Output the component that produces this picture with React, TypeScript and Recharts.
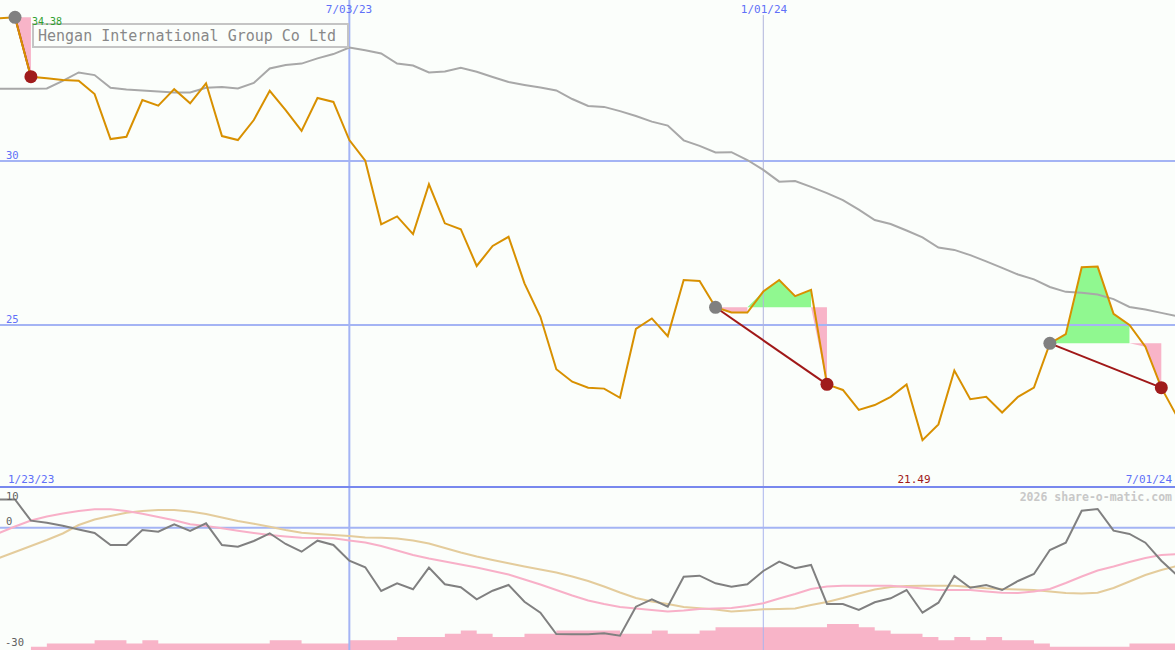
import { ComposedChart, Line, Area, XAxis, YAxis, ReferenceLine, ReferenceDot } from "recharts";

// weekly closes, first entry is the week before 2/06/23, last is 7/01/24
const price = [
  34.35, 34.38, 32.57, 32.52, 32.47, 32.45, 32.04, 30.67, 30.74, 31.86,
  31.69, 32.19, 31.76, 32.37, 30.76, 30.64, 31.25, 32.14, 31.55, 30.92,
  31.92, 31.8, 30.64, 30.01, 28.07, 28.31, 27.77, 29.29, 28.1, 27.92,
  26.8, 27.41, 27.69, 26.27, 25.25, 23.65, 23.27, 23.09, 23.06, 22.78,
  24.88, 25.2, 24.66, 26.37, 26.34, 25.54, 25.38, 25.38, 26.02, 26.37,
  25.88, 26.07, 23.19, 23.02, 22.41, 22.56, 22.81, 23.19, 21.49, 21.97,
  23.61, 22.74, 22.81, 22.33, 22.81, 23.09, 24.44, 24.72, 26.76, 26.78,
  25.34, 25.0, 24.34, 23.09, 22.2,
];

const movingAvg = [
  32.2, 32.2, 32.2, 32.21, 32.44, 32.7, 32.62, 32.23, 32.18, 32.15,
  32.12, 32.09, 32.09, 32.23, 32.26, 32.21, 32.38, 32.82, 32.93, 32.97,
  33.13, 33.26, 33.46, 33.38, 33.28, 32.97, 32.91, 32.7, 32.73, 32.84,
  32.72, 32.56, 32.41, 32.32, 32.24, 32.15, 31.89, 31.68, 31.65, 31.52,
  31.37, 31.2, 31.08, 30.63, 30.46, 30.26, 30.27, 30.03, 29.73, 29.37,
  29.39, 29.21, 29.02, 28.81, 28.52, 28.2, 28.08, 27.88, 27.67, 27.36,
  27.29, 27.13, 26.94, 26.74, 26.54, 26.39, 26.16, 26.01, 25.98, 25.93,
  25.79, 25.55, 25.47, 25.37, 25.27,
];

// lower panel
const momentum = [
  6.93, 6.93, 1.73, 1.21, 0.5, -0.43, -1.29, -4.23, -4.23, -0.55,
  -0.97, 0.85, -0.8, 1.09, -4.23, -4.65, -3.25, -1.36, -3.99, -5.88,
  -3.18, -4.23, -8.09, -9.71, -15.52, -13.63, -15.1, -9.8, -13.88, -14.61,
  -17.56, -15.45, -14.05, -18.15, -20.85, -26.07, -26.15, -26.15, -25.9, -26.49,
  -19.37, -17.56, -19.37, -12.01, -11.77, -13.63, -14.47, -13.88, -10.61, -8.33,
  -9.95, -9.14, -18.71, -18.71, -20.18, -18.29, -17.31, -15.28, -20.85, -18.39,
  -11.84, -14.71, -14.05, -15.28, -13.07, -11.35, -5.46, -3.67, 4.18, 4.6,
  -0.72, -1.53, -3.67, -8.09, -11.72,
];

const pinkSignal = [
  -1.29, 0.31, 1.78, 2.76, 3.5, 4.11, 4.53, 4.53, 4.11, 3.42,
  2.64, 1.85, 0.87, 0.43, -0.13, -0.72, -1.29, -1.78, -2.15, -2.44,
  -2.52, -2.59, -3.13, -3.62, -4.48, -5.58, -6.69, -7.55, -8.28, -9.02,
  -9.75, -10.61, -11.47, -12.7, -13.93, -15.28, -16.63, -17.85, -18.71, -19.45,
  -19.82, -20.18, -20.55, -20.31, -19.94, -19.82, -19.69, -19.2, -18.54, -17.36,
  -16.26, -15.03, -14.42, -14.22, -14.22, -14.22, -14.22, -14.54, -14.91, -15.28,
  -15.28, -15.28, -15.64, -15.94, -16.01, -15.64, -15.03, -13.56, -11.96, -10.49,
  -9.51, -8.4, -7.42, -6.69, -6.49,
];

const tanSignal = [
  -7.42, -5.95, -4.48, -3.01, -1.41, 0.67, 2.02, 2.88, 3.67, 4.11,
  4.36, 4.36, 3.99, 3.37, 2.52, 1.66, 0.99, 0.26, -0.55, -1.24,
  -1.53, -1.78, -2.02, -2.39, -2.44, -2.64, -3.13, -3.87, -4.97, -6.07,
  -7.06, -7.91, -8.72, -9.51, -10.25, -10.98, -11.96, -13.07, -14.42, -15.89,
  -17.24, -18.1, -18.71, -19.45, -19.77, -20.06, -20.55, -20.31, -20.01, -19.94,
  -19.82, -18.96, -18.22, -17.24, -16.13, -15.15, -14.54, -14.29, -14.22, -14.22,
  -14.22, -14.54, -14.86, -15.03, -15.15, -15.28, -15.64, -16.01, -16.13, -15.96,
  -14.79, -13.19, -11.6, -10.37, -9.39,
];

const volume = [
  null, null, 1, 2, 2, 2, 3, 3, 2, 3,
  2, 2, 2, 2, 2, 2, 2, 3, 3, 2,
  2, 2, 3, 3, 3, 4, 4, 4, 5, 6,
  5, 4, 4, 5, 5, 6, 6, 6, 6, 5,
  5, 6, 5, 5, 6, 7, 7, 7, 7, 7,
  7, 7, 8, 8, 7, 6, 5, 5, 4, 3,
  4, 3, 4, 3, 3, 2, 1, 1, 1, 1,
  1, 2, 2, 2, 2,
];

// trades: buy week -> sell week
const buyWeeks = [0, 44, 65];
const sellWeeks = [1, 51, 72];

const dateTicks = [
  { k: 21, label: "7/03/23" },
  { k: 47, label: "1/01/24" },
];

const X_DOMAIN = [-0.942, 72.86];
const MAIN_DOMAIN = [20.03, 34.909];
const LOW_DOMAIN = [-30, 9.75];

const GRID = "#a4b4f4";
const MONO = "'DejaVu Sans Mono', monospace";

const mainData = price.map((p, i) => {
  const k = i - 1;
  const row: any = { k, price: p, ma: movingAvg[i] };
  buyWeeks.forEach((b, t) => {
    const s = sellWeeks[t];
    if (k >= b && k <= s) {
      const level = price[b + 1];
      const next = k < s ? price[i + 1] : null;
      // green above the entry level, pink below; a zero-width edge where the next week flips
      if (p >= level) row.green = [level, p];
      else if (next !== null && next >= level) row.green = [level, level];
      if (p < level) row.pink = [p, level];
      else if (k === b || (next !== null && next < level)) row.pink = [level, level];
      if (k === b) row[`trade${t}`] = level;
      if (k === s) row[`trade${t}`] = p;
    }
  });
  return row;
});

const lowerData = momentum.map((m, i) => ({
  k: i - 1,
  mom: m,
  pinkSig: pinkSignal[i],
  tanSig: tanSignal[i],
  vol: volume[i],
}));

const minIdx = price.indexOf(Math.min(...price));

export default function App() {
  return (
    <div style={{ position: "absolute", left: 0, top: 0, width: 1175, height: 650, background: "#fbfefb", overflow: "hidden" }}>
      <div style={{ position: "absolute", left: 0, top: 0 }}>
        <ComposedChart width={1175} height={488} data={mainData} margin={{ top: 0, right: 0, bottom: 0, left: 0 }}>
          <XAxis dataKey="k" type="number" domain={X_DOMAIN} hide allowDataOverflow />
          <YAxis type="number" domain={MAIN_DOMAIN} hide allowDataOverflow />
          <ReferenceLine y={30} stroke={GRID} strokeWidth={2} />
          <ReferenceLine y={25} stroke={GRID} strokeWidth={2} />
          <ReferenceLine x={dateTicks[0].k} stroke={GRID} strokeWidth={2} />
          <ReferenceLine
            segment={[{ x: dateTicks[1].k, y: 34.45 }, { x: dateTicks[1].k, y: MAIN_DOMAIN[0] }]}
            stroke="#b0b4dc"
            strokeWidth={1}
          />
          <Area dataKey="green" stroke="none" fill="#90f890" fillOpacity={1} isAnimationActive={false} dot={false} activeDot={false} />
          <Area dataKey="pink" stroke="none" fill="#f8b4c8" fillOpacity={1} isAnimationActive={false} dot={false} activeDot={false} />
          <Line dataKey="ma" stroke="#a8a8a8" strokeWidth={2} dot={false} activeDot={false} isAnimationActive={false} />
          {buyWeeks.map((_, t) => (
            <Line key={t} dataKey={`trade${t}`} connectNulls stroke="#a01818" strokeWidth={2} dot={false} activeDot={false} isAnimationActive={false} />
          ))}
          <Line dataKey="price" stroke="#d89000" strokeWidth={2} dot={false} activeDot={false} isAnimationActive={false} />
          {buyWeeks.map((b) => (
            <ReferenceDot key={`b${b}`} x={b} y={price[b + 1]} r={6.5} fill="#808080" stroke="none" />
          ))}
          {sellWeeks.map((s) => (
            <ReferenceDot key={`s${s}`} x={s} y={price[s + 1]} r={6.5} fill="#a01c1c" stroke="none" />
          ))}
        </ComposedChart>
      </div>
      <div style={{ position: "absolute", left: 0, top: 488 }}>
        <ComposedChart width={1175} height={162} data={lowerData} margin={{ top: 0, right: 0, bottom: 0, left: 0 }}>
          <XAxis dataKey="k" type="number" domain={X_DOMAIN} hide allowDataOverflow />
          <YAxis yAxisId="sig" type="number" domain={LOW_DOMAIN} hide allowDataOverflow />
          <YAxis yAxisId="vol" type="number" domain={[0, 50]} hide allowDataOverflow />
          <ReferenceLine yAxisId="sig" y={0} stroke={GRID} strokeWidth={2} />
          <ReferenceLine yAxisId="sig" x={dateTicks[0].k} stroke={GRID} strokeWidth={2} />
          <ReferenceLine yAxisId="sig" x={dateTicks[1].k} stroke="#aab4ee" strokeWidth={1} />
          <Area yAxisId="vol" dataKey="vol" type="stepAfter" stroke="none" fill="#f8b4c8" fillOpacity={1} isAnimationActive={false} dot={false} activeDot={false} />
          <Line yAxisId="sig" dataKey="tanSig" stroke="#e4cc9c" strokeWidth={2} dot={false} activeDot={false} isAnimationActive={false} />
          <Line yAxisId="sig" dataKey="pinkSig" stroke="#f8b0c8" strokeWidth={2} dot={false} activeDot={false} isAnimationActive={false} />
          <Line yAxisId="sig" dataKey="mom" stroke="#808080" strokeWidth={2} dot={false} activeDot={false} isAnimationActive={false} />
        </ComposedChart>
      </div>
      <div style={{ position: "absolute", left: 0, top: 486, width: 1175, height: 2, background: "#7888ee" }} />
      <svg width={1175} height={650} style={{ position: "absolute", left: 0, top: 0, pointerEvents: "none" }} fontFamily={MONO}>
        <rect x={33} y={24} width={315} height={23} fill="#fbfefb" stroke="#c4c4c4" strokeWidth={2} />
        <text x={38} y={41} fontSize={15} fill="#888888">Hengan International Group Co Ltd</text>
        <text x={32} y={25} fontSize={10} fill="#30a030">{price[1].toFixed(2)}</text>
        <text x={349} y={13} fontSize={11} fill="#6070f8" textAnchor="middle">{dateTicks[0].label}</text>
        <text x={764} y={13} fontSize={11} fill="#6070f8" textAnchor="middle">{dateTicks[1].label}</text>
        <text x={6} y={159} fontSize={10.5} fill="#6070f8">30</text>
        <text x={6} y={323} fontSize={10.5} fill="#6070f8">25</text>
        <text x={8} y={483} fontSize={11} fill="#6070f8">1/23/23</text>
        <text x={914} y={483} fontSize={11} fill="#a01818" textAnchor="middle">{price[minIdx].toFixed(2)}</text>
        <text x={1172} y={483} fontSize={11} fill="#6070f8" textAnchor="end">7/01/24</text>
        <text x={1172} y={501} fontSize={11.5} fontWeight="bold" fill="#c8c8c8" textAnchor="end">2026 share-o-matic.com</text>
        <text x={6} y={500} fontSize={10.5} fill="#606060">10</text>
        <text x={6} y={525} fontSize={10.5} fill="#606060">0</text>
        <text x={5} y={646} fontSize={10.5} fill="#606060">-30</text>
      </svg>
    </div>
  );
}
